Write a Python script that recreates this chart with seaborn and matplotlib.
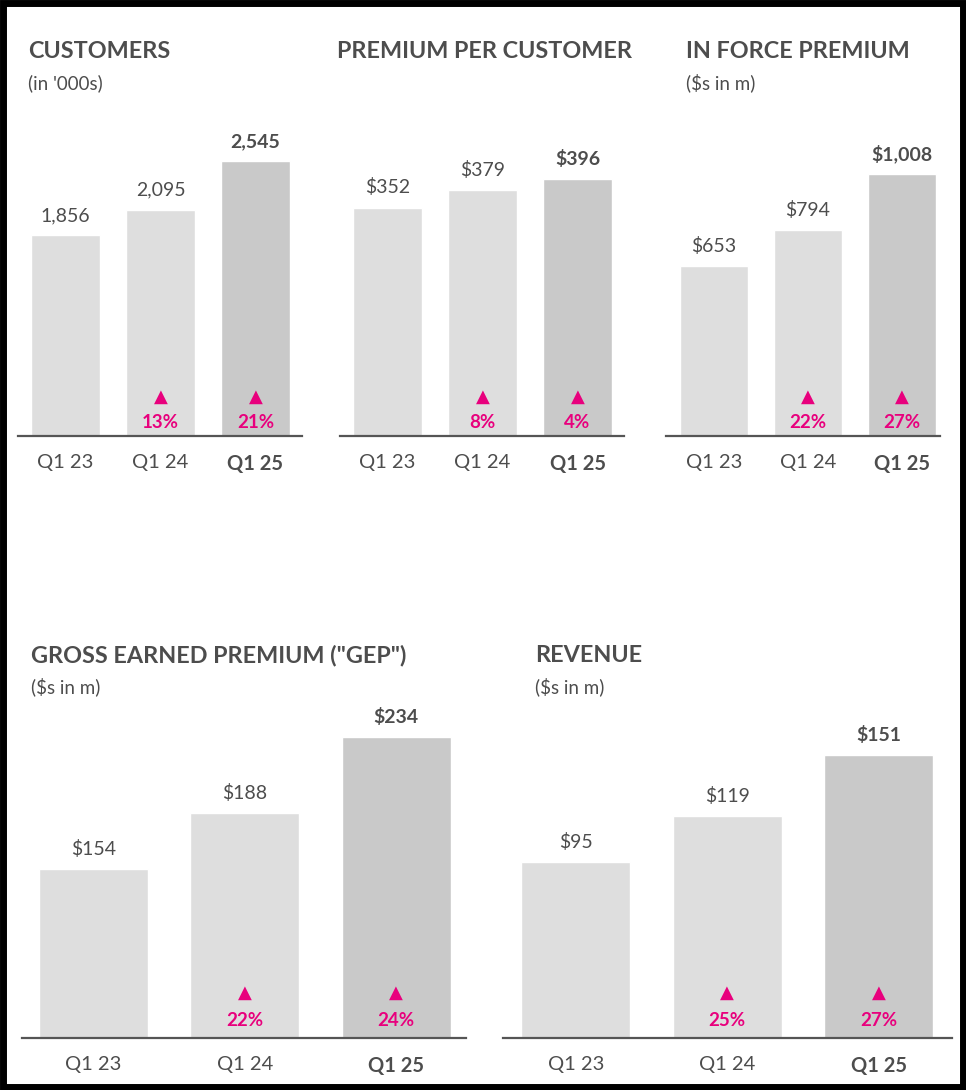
import matplotlib
matplotlib.use("Agg")
import matplotlib.pyplot as plt
import matplotlib.transforms as mtransforms
import seaborn as sns
import pandas as pd

sns.set_style("white")
plt.rcParams['font.family'] = ['Lato', 'DejaVu Sans']

quarters = ["Q1 23", "Q1 24", "Q1 25"]
customers = [1856, 2095, 2545]
premium_per_customer = [352, 379, 396]
in_force_premium = [653, 794, 1008]
gep = [154, 188, 234]
revenue = [95, 119, 151]

customers_growth = [None, "13%", "21%"]
ppc_growth = [None, "8%", "4%"]
ifp_growth = [None, "22%", "27%"]
gep_growth = [None, "22%", "24%"]
revenue_growth = [None, "25%", "27%"]

TEXT = "#4d4d4d"
PINK = "#e8007d"
bar_colors = ["#dedede", "#dedede", "#c9c9c9"]

W, H = 966, 1090
fig = plt.figure(figsize=(W / 100, H / 100), dpi=100)


def px_axes(x0, x1, y_top, y_base):
    return fig.add_axes([x0 / W, 1 - y_base / H, (x1 - x0) / W, (y_base - y_top) / H])


panels = [
    # values, growth, fmt, axes box, (y floor, px per unit), unit px, xstart, title, subtitle, title pos
    (customers, customers_growth, "{:,}", (18, 302, 100, 436), (0, 275 / 2545), 95, -0.5,
     "CUSTOMERS", "(in '000s)", (28, 52)),
    (premium_per_customer, ppc_growth, "${:,}", (340, 624, 100, 436), (0, 257 / 396), 95, -0.5,
     "PREMIUM PER CUSTOMER", None, (337, 52)),
    (in_force_premium, ifp_growth, "${:,}", (666, 940, 100, 436), (0, 262 / 1008), 94, -0.51,
     "IN FORCE PREMIUM", "($s in m)", (686, 52)),
    (gep, gep_growth, "${:,}", (22, 466, 700, 1038), (51.8, 1.652), 151.5, -0.47,
     'GROSS EARNED PREMIUM ("GEP")', "($s in m)", (31, 656)),
    (revenue, revenue_growth, "${:,}", (503, 952, 700, 1038), (2.5, 1.906), 151.5, -0.48,
     "REVENUE", "($s in m)", (535, 656)),
]

for vals, growth, fmt, (x0, x1, yt, yb), (floor, ppu), upx, xs, title, sub, (tx, ty) in panels:
    ax = px_axes(x0, x1, yt, yb)
    df = pd.DataFrame({"q": quarters, "v": vals})
    sns.barplot(data=df, x="q", y="v", hue="q", palette=bar_colors, width=0.72,
                legend=False, ax=ax, saturation=1)
    ax.set_ylim(floor, floor + (yb - yt) / ppu)
    ax.set_xlim(xs, xs + (x1 - x0) / upx)
    for s in ["top", "right", "left"]:
        ax.spines[s].set_visible(False)
    ax.spines["bottom"].set_color("#555555")
    ax.spines["bottom"].set_linewidth(1.6)
    ax.set_yticks([])
    ax.set_xlabel("")
    ax.set_ylabel("")
    ax.tick_params(axis="x", length=0, pad=13, labelsize=14.5, colors=TEXT)
    ax.set_xticks(range(3))
    ax.set_xticklabels(quarters)
    ax.get_xticklabels()[2].set_fontweight("bold")
    bt = mtransforms.blended_transform_factory(ax.transData, ax.transAxes)
    for i, v in enumerate(vals):
        last = i == 2
        ax.annotate(fmt.format(v), (i, v), xytext=(0, 8), textcoords="offset points",
                    ha="center", va="bottom", fontsize=14, color=TEXT,
                    fontweight="bold" if last else "normal")
        if growth[i]:
            tri_y, pct_y = (0.116, 0.04) if yt == 100 else (0.133, 0.053)
            ax.text(i, tri_y, "▲", transform=bt, ha="center", va="center",
                    color=PINK, fontsize=13, family=['DejaVu Sans'])
            ax.text(i, pct_y, growth[i], transform=bt, ha="center", va="center",
                    color=PINK, fontsize=13.5, fontweight="bold")
    fig.text(tx / W, 1 - ty / H, title, ha="left", va="center", fontsize=16.8,
             fontweight="bold", color=TEXT)
    if sub:
        fig.text(tx / W, 1 - (ty + 31) / H, sub, ha="left", va="center",
                 fontsize=13.5, color=TEXT)

frame = plt.Rectangle((0.003, 0.003), 0.994, 0.994, transform=fig.transFigure,
                      fill=False, edgecolor="black", linewidth=5)
fig.patches.append(frame)

fig.savefig("out.png", dpi=100)
